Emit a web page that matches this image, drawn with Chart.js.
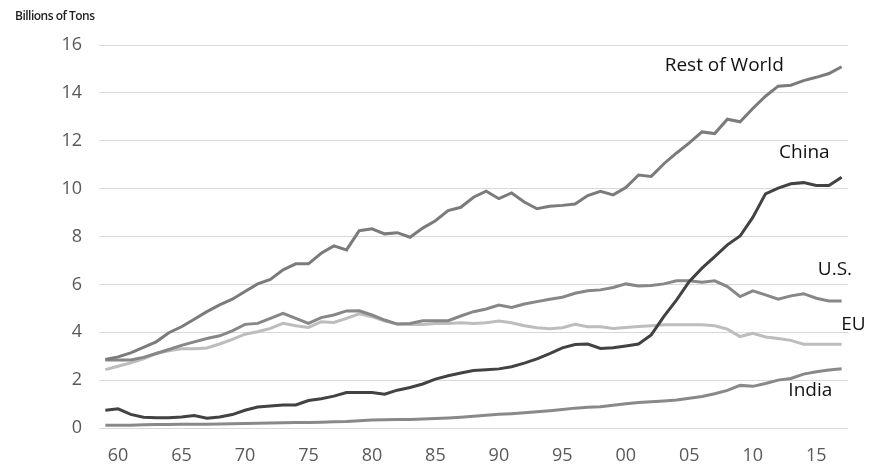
<!DOCTYPE html>
<html>
<head>
<meta charset="utf-8">
<script src="https://cdn.jsdelivr.net/npm/chart.js@4/dist/chart.umd.min.js"></script>
<style>
  html, body { margin: 0; padding: 0; background: #fff; }
  #wrap { position: relative; width: 886px; height: 465px; }
  #unit {
    position: absolute; left: 15px; top: 7px;
    font-family: "Open Sans", sans-serif; font-size: 12px; font-weight: 600;
    letter-spacing: -0.5px; color: #222;
  }
</style>
</head>
<body>
<div id="wrap">
  <canvas id="chart" width="886" height="465"></canvas>
  <div id="unit">Billions of Tons</div>
</div>
<script>
// years 1959 - 2017
const years = [];
for (let y = 1959; y <= 2017; y++) years.push(y);

const restOfWorld = [2.86, 2.97, 3.14, 3.37, 3.60, 3.98, 4.23, 4.54, 4.86, 5.14,
  5.38, 5.70, 6.02, 6.21, 6.61, 6.86, 6.86, 7.30, 7.61, 7.44,
  8.24, 8.32, 8.11, 8.16, 7.97, 8.35, 8.66, 9.08, 9.22, 9.64,
  9.89, 9.58, 9.82, 9.44, 9.16, 9.26, 9.30, 9.36, 9.71, 9.89,
  9.74, 10.04, 10.57, 10.51, 11.04, 11.49, 11.91, 12.37, 12.30, 12.90,
  12.79, 13.35, 13.86, 14.28, 14.32, 14.51, 14.65, 14.81, 15.09];

const china = [0.74, 0.80, 0.57, 0.45, 0.43, 0.43, 0.46, 0.52, 0.41, 0.46,
  0.56, 0.74, 0.88, 0.92, 0.96, 0.96, 1.15, 1.22, 1.33, 1.48,
  1.48, 1.48, 1.41, 1.58, 1.69, 1.84, 2.04, 2.18, 2.30, 2.40,
  2.43, 2.47, 2.56, 2.71, 2.89, 3.11, 3.35, 3.49, 3.51, 3.32,
  3.35, 3.43, 3.51, 3.89, 4.66, 5.35, 6.12, 6.68, 7.16, 7.65,
  8.02, 8.80, 9.78, 10.02, 10.20, 10.25, 10.13, 10.13, 10.48];

const us = [2.84, 2.84, 2.84, 2.95, 3.11, 3.28, 3.45, 3.60, 3.74, 3.85,
  4.06, 4.33, 4.37, 4.58, 4.79, 4.58, 4.37, 4.61, 4.72, 4.89,
  4.90, 4.72, 4.51, 4.34, 4.37, 4.48, 4.48, 4.48, 4.68, 4.86,
  4.97, 5.14, 5.04, 5.18, 5.28, 5.38, 5.46, 5.63, 5.73, 5.77,
  5.87, 6.02, 5.93, 5.95, 6.02, 6.15, 6.15, 6.09, 6.15, 5.91,
  5.49, 5.73, 5.56, 5.38, 5.52, 5.61, 5.42, 5.31, 5.31];

const eu = [2.44, 2.58, 2.72, 2.89, 3.11, 3.23, 3.31, 3.31, 3.34, 3.51,
  3.70, 3.92, 4.02, 4.16, 4.37, 4.27, 4.20, 4.44, 4.41, 4.58,
  4.77, 4.65, 4.47, 4.34, 4.32, 4.32, 4.37, 4.37, 4.40, 4.37,
  4.40, 4.47, 4.40, 4.27, 4.19, 4.15, 4.19, 4.33, 4.23, 4.23,
  4.16, 4.20, 4.24, 4.27, 4.31, 4.31, 4.31, 4.31, 4.27, 4.13,
  3.82, 3.96, 3.80, 3.74, 3.66, 3.50, 3.50, 3.50, 3.50];

const india = [0.11, 0.11, 0.12, 0.14, 0.15, 0.15, 0.16, 0.16, 0.16, 0.17,
  0.18, 0.19, 0.20, 0.21, 0.22, 0.23, 0.23, 0.24, 0.26, 0.27,
  0.30, 0.33, 0.34, 0.35, 0.36, 0.38, 0.40, 0.42, 0.45, 0.49,
  0.53, 0.57, 0.60, 0.64, 0.68, 0.72, 0.77, 0.83, 0.87, 0.89,
  0.95, 1.01, 1.07, 1.10, 1.13, 1.17, 1.24, 1.32, 1.43, 1.57,
  1.78, 1.74, 1.86, 2.00, 2.07, 2.25, 2.35, 2.42, 2.48];

// series names placed next to their lines (anchored in year / value units)
const seriesLabels = [
  { text: 'Rest of World', year: 2007.75, value: 15.16 },
  { text: 'China', year: 2014.06, value: 11.49 },
  { text: 'U.S.', year: 2016.47, value: 6.60 },
  { text: 'EU', year: 2017.92, value: 4.30 },
  { text: 'India', year: 2014.53, value: 1.55 }
];

const lineLabels = {
  id: 'lineLabels',
  afterDatasetsDraw(chart) {
    const ctx = chart.ctx;
    const xs = chart.scales.x, ys = chart.scales.y;
    ctx.save();
    ctx.font = '19px "Open Sans", sans-serif';
    ctx.fillStyle = '#111';
    ctx.textAlign = 'center';
    ctx.textBaseline = 'middle';
    seriesLabels.forEach(l => {
      const x = xs.getPixelForValue(l.year - years[0]);
      const y = ys.getPixelForValue(l.value);
      ctx.fillText(l.text, x, y);
    });
    ctx.restore();
  }
};

const line = (label, data, color) => ({
  label, data, borderColor: color, borderWidth: 3,
  pointRadius: 0, tension: 0, fill: false
});

new Chart(document.getElementById('chart'), {
  type: 'line',
  data: {
    labels: years,
    datasets: [
      line('China', china, '#424242'),
      line('Rest of World', restOfWorld, '#7b7b7b'),
      line('U.S.', us, '#878787'),
      line('India', india, '#898989'),
      line('EU', eu, '#bdbdbd')
    ]
  },
  plugins: [lineLabels],
  options: {
    responsive: false,
    animation: false,
    layout: { padding: { top: 45, right: 38, left: 0, bottom: 0 } },
    plugins: { legend: { display: false }, tooltip: { enabled: false } },
    scales: {
      x: {
        offset: true,
        grid: { display: false, drawTicks: false },
        border: { display: false },
        afterFit: s => { s.height = 37; },
        ticks: {
          autoSkip: false, maxRotation: 0, padding: 17,
          color: '#595959',
          font: { family: 'Open Sans', size: 18 },
          callback: function (v) {
            const y = years[v];
            return y % 5 === 0 ? String(y % 100).padStart(2, '0') : null;
          }
        }
      },
      y: {
        min: 0, max: 16,
        afterFit: s => { s.width = 99; },
        grid: { color: '#d9d9d9', lineWidth: 1, drawTicks: false },
        border: { display: false },
        ticks: {
          stepSize: 2, padding: 17, color: '#595959',
          font: { family: 'Open Sans', size: 18 }
        }
      }
    }
  }
});
</script>
</body>
</html>
